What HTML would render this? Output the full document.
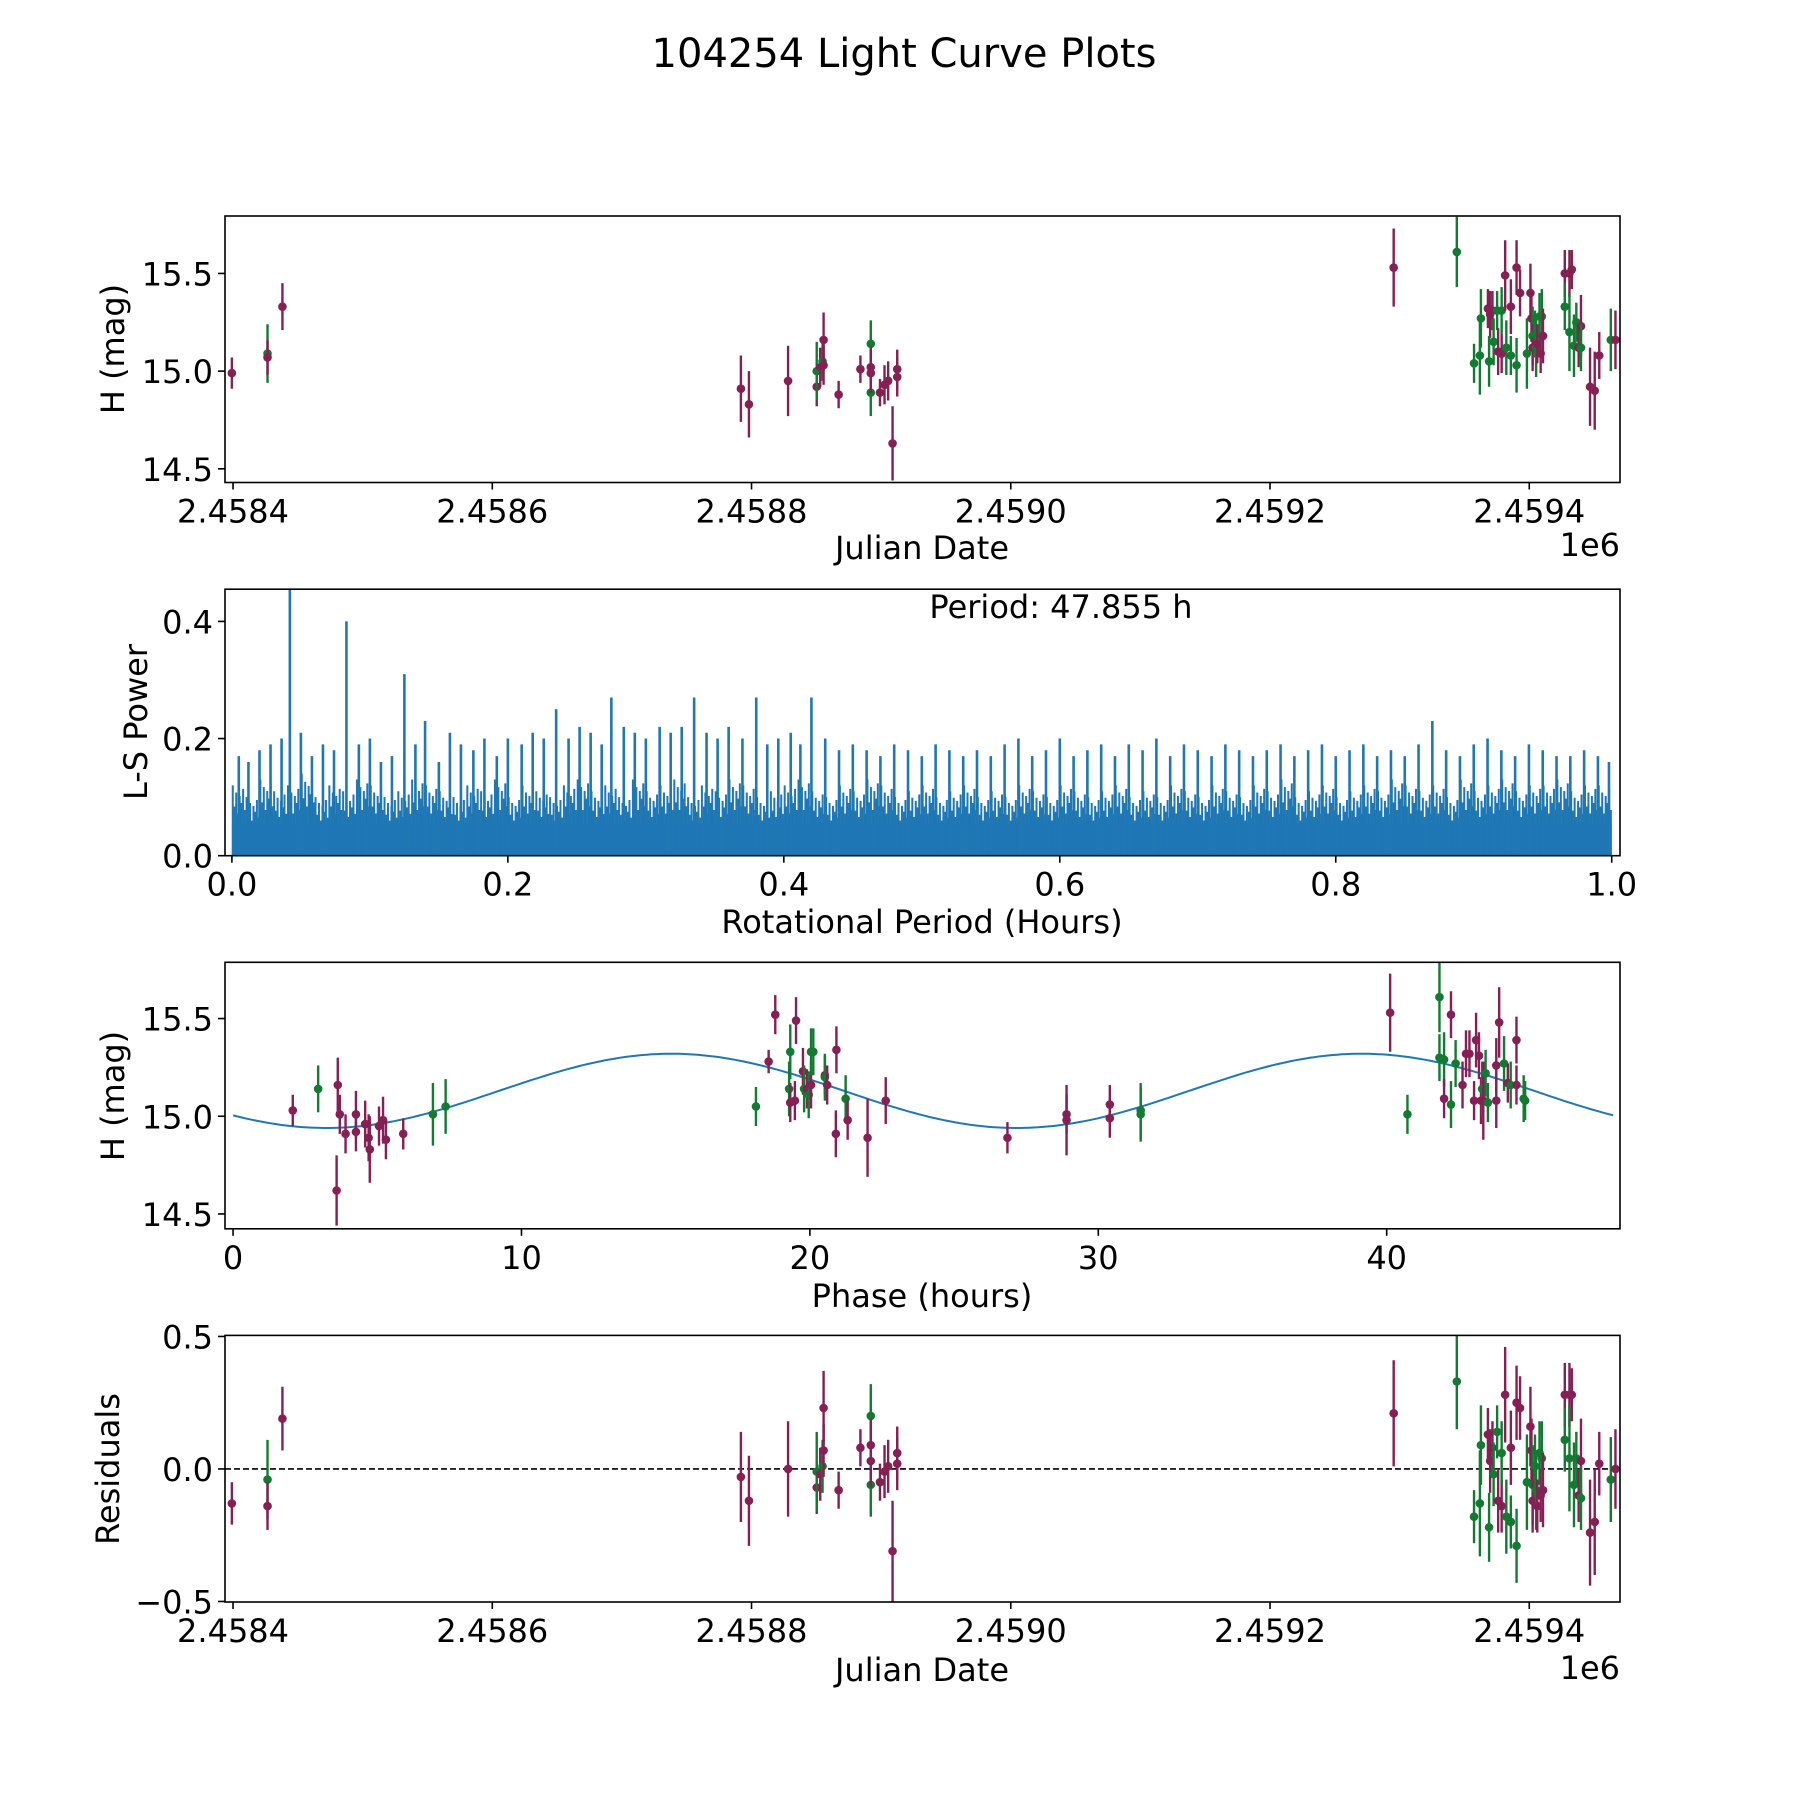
<!DOCTYPE html>
<html><head><meta charset="utf-8"><style>
html,body{margin:0;padding:0;background:#fff}
svg{display:block}
text{font-family:"DejaVu Sans","Liberation Sans",sans-serif;fill:#000}
</style></head><body>
<svg id="fig" xmlns="http://www.w3.org/2000/svg" width="1800" height="1800" viewBox="0 0 1800 1800">
<rect width="1800" height="1800" fill="#fff"/>
<text x="904" y="67" font-size="40" text-anchor="middle">104254 Light Curve Plots</text>
</svg>
<script>
// ---- data: Julian-date panel (days since 2458400) ----
const jdDays = [-0.9,26.6,26.6,38.1,391.8,398.0,428.2,450.3,450.3,453,454.8,455.6,455.6,467.2,484,492,492,492,492,499.1,502.6,505.4,508.8,512.4,512.4,895.4,944.1,957.4,961.9,962.7,968.1,969.8,969,971.6,972.5,975.2,976,978.7,978.7,981.4,982.3,985.8,985.8,990.2,990.2,992.9,998.2,1000.9,1001.7,1002.6,1002.6,1004.4,1005.3,1006.2,1007.9,1008.8,1009.7,1010.6,1027.4,1027.4,1031,1031,1032.8,1034.5,1036.3,1038.1,1039.9,1039.9,1046.9,1050.5,1054,1062.9,1066.5];
const mags = [14.99,15.09,15.07,15.33,14.91,14.83,14.95,14.92,15.0,15.02,15.05,15.16,15.03,14.88,15.01,15.14,15.02,14.89,14.99,14.89,14.93,14.95,14.63,14.97,15.01,15.53,15.61,15.04,15.08,15.27,15.32,15.29,15.05,15.31,15.15,15.31,15.10,15.09,15.31,15.49,15.12,15.33,15.08,15.53,15.03,15.40,15.09,15.40,15.27,15.18,15.12,15.19,15.12,15.14,15.28,15.09,15.28,15.18,15.50,15.33,15.50,15.20,15.52,15.13,15.25,15.12,15.23,15.12,14.92,14.90,15.08,15.16,15.16];
const magErr = [0.08,0.15,0.09,0.12,0.17,0.17,0.18,0.1,0.15,0.1,0.1,0.14,0.1,0.07,0.07,0.12,0.1,0.12,0.1,0.07,0.1,0.1,0.19,0.1,0.1,0.2,0.18,0.1,0.2,0.15,0.1,0.12,0.13,0.1,0.12,0.1,0.12,0.1,0.12,0.18,0.14,0.14,0.1,0.14,0.14,0.12,0.18,0.15,0.12,0.15,0.12,0.12,0.15,0.1,0.12,0.1,0.14,0.14,0.12,0.12,0.12,0.2,0.1,0.16,0.1,0.1,0.16,0.12,0.2,0.2,0.12,0.16,0.15];
const band = ['p','g','p','p','p','p','p','p','g','p','g','p','p','p','p','g','p','g','p','p','p','p','p','p','p','p','g','g','g','g','p','p','g','p','g','g','p','p','g','p','g','p','g','p','g','p','g','p','p','g','p','g','g','p','g','p','g','p','p','g','p','g','p','g','g','p','p','g','p','p','p','g','p'];
const resid = [-0.13,-0.04,-0.14,0.19,-0.03,-0.12,0.0,-0.07,-0.01,-0.02,0.01,0.23,0.07,-0.08,0.08,0.2,0.09,-0.06,0.03,-0.05,-0.01,0.01,-0.31,0.06,0.02,0.21,0.33,-0.18,-0.13,0.09,0.13,0.03,-0.22,0.08,-0.02,0.14,-0.12,-0.14,0.06,0.28,-0.18,0.08,-0.2,0.25,-0.29,0.23,-0.05,0.16,0.07,-0.06,-0.12,0.01,-0.08,-0.14,0.06,-0.1,0.04,-0.08,0.28,0.11,0.28,0.04,0.28,-0.06,0.04,-0.1,0.03,-0.11,-0.24,-0.2,0.02,-0.04,0.0];
// ---- data: phased panel ----
const phase = [2.07,2.95,3.59,3.63,3.7,3.9,4.26,4.26,4.58,4.7,4.74,5.06,5.2,5.3,5.9,6.93,7.37,18.13,18.57,18.8,19.28,19.32,19.32,19.48,19.52,19.76,19.8,19.9,19.96,20.04,20.04,20.12,20.52,20.52,20.6,20.9,20.92,21.24,21.31,22.0,22.63,26.85,28.9,28.9,30.4,30.4,31.47,31.47,40.12,40.72,41.83,41.83,41.99,41.99,42.23,42.23,42.39,42.63,42.75,42.87,43.03,43.1,43.2,43.27,43.31,43.35,43.43,43.51,43.8,43.8,43.9,44.07,44.2,44.3,44.5,44.5,44.75,44.8];
const phaseMag = [15.03,15.14,14.62,15.16,15.01,14.91,15.01,14.92,14.96,14.89,14.83,14.95,14.98,14.88,14.91,15.01,15.05,15.05,15.28,15.52,15.14,15.33,15.07,15.08,15.49,15.23,15.14,15.14,15.11,15.16,15.33,15.33,15.21,15.2,15.16,14.91,15.34,15.09,14.98,14.89,15.08,14.89,14.98,15.01,14.99,15.06,15.03,15.01,15.53,15.01,15.61,15.30,15.29,15.09,15.52,15.06,15.27,15.16,15.32,15.32,15.08,15.39,15.31,15.08,15.14,15.08,15.22,15.07,15.26,15.08,15.48,15.27,15.17,15.16,15.39,15.16,15.09,15.08];
const phaseErr = [0.08,0.12,0.18,0.14,0.1,0.1,0.12,0.1,0.12,0.12,0.17,0.1,0.12,0.1,0.08,0.16,0.14,0.1,0.06,0.1,0.14,0.14,0.1,0.1,0.12,0.12,0.12,0.1,0.12,0.12,0.12,0.12,0.1,0.12,0.1,0.12,0.12,0.12,0.1,0.2,0.12,0.08,0.18,0.1,0.1,0.1,0.14,0.14,0.2,0.1,0.18,0.12,0.14,0.1,0.12,0.12,0.12,0.12,0.12,0.12,0.1,0.14,0.12,0.12,0.14,0.2,0.12,0.1,0.14,0.14,0.18,0.14,0.1,0.12,0.12,0.1,0.12,0.1];
const phaseBand = ['p','g','p','p','p','p','p','p','p','p','p','p','p','p','p','g','g','g','p','p','g','g','p','p','p','p','g','p','g','p','g','g','p','g','p','p','p','g','p','p','p','p','p','p','p','p','g','g','p','g','g','g','g','p','p','g','g','p','p','p','p','p','p','p','g','p','g','g','p','p','p','g','p','g','p','p','g','g'];
const fitMean = 15.13, fitAmp = 0.19, fitPeriod = 23.93, fitShift = 9.22;
// ---- data: periodogram ----
const peakPeriods = [0.005,0.012,0.02,0.028,0.036,0.042,0.05,0.058,0.066,0.074,0.083,0.092,0.1,0.108,0.116,0.125,0.133,0.14,0.15,0.158,0.166,0.175,0.183,0.192,0.2,0.21,0.218,0.226,0.235,0.244,0.252,0.26,0.268,0.275,0.284,0.292,0.3,0.31,0.318,0.326,0.335,0.344,0.352,0.36,0.37,0.38,0.388,0.396,0.405,0.412,0.42,0.43,0.44,0.45,0.46,0.47,0.48,0.49,0.5,0.51,0.52,0.53,0.54,0.55,0.56,0.57,0.58,0.59,0.6,0.61,0.62,0.63,0.64,0.65,0.66,0.67,0.68,0.69,0.7,0.71,0.72,0.73,0.74,0.75,0.76,0.77,0.78,0.79,0.8,0.81,0.82,0.83,0.84,0.85,0.86,0.87,0.88,0.89,0.9,0.91,0.92,0.93,0.94,0.95,0.96,0.97,0.98,0.99,0.998];
const peakPowers = [0.17,0.16,0.18,0.19,0.2,0.46,0.21,0.17,0.19,0.18,0.40,0.19,0.2,0.16,0.17,0.31,0.19,0.23,0.16,0.21,0.19,0.18,0.2,0.17,0.2,0.19,0.21,0.2,0.25,0.2,0.22,0.21,0.19,0.27,0.22,0.21,0.2,0.22,0.21,0.22,0.27,0.21,0.2,0.22,0.2,0.27,0.19,0.2,0.21,0.19,0.27,0.2,0.18,0.19,0.18,0.17,0.19,0.18,0.17,0.19,0.18,0.17,0.18,0.17,0.19,0.2,0.17,0.18,0.2,0.17,0.18,0.19,0.17,0.19,0.18,0.2,0.17,0.19,0.18,0.17,0.19,0.18,0.17,0.18,0.19,0.17,0.18,0.19,0.17,0.18,0.19,0.17,0.18,0.17,0.19,0.23,0.18,0.17,0.19,0.2,0.18,0.17,0.19,0.18,0.17,0.17,0.18,0.17,0.16];
const noiseLevels = [0.12,0.1,0.13,0.11,0.12,0.14,0.1,0.12,0.11,0.13,0.12,0.1,0.11,0.13,0.12,0.11,0.1,0.12,0.11,0.13,0.1,0.12,0.11,0.1,0.12,0.13,0.11,0.12,0.1,0.13,0.11,0.12,0.13,0.1,0.12,0.11,0.13,0.12,0.1,0.11,0.12,0.13,0.11,0.1,0.12,0.11,0.13,0.12,0.1,0.11,0.12,0.1,0.11,0.12,0.1,0.11,0.1,0.12,0.11,0.1,0.12,0.11,0.1,0.11,0.12,0.1,0.11,0.1,0.12,0.11,0.1,0.12,0.11,0.1,0.12,0.11,0.13,0.1,0.11,0.12,0.1,0.11,0.12,0.11,0.13,0.12,0.11,0.12,0.1,0.13,0.11,0.12,0.13,0.11,0.12,0.12,0.13,0.11,0.12,0.12];
const noiseShape = [1.0,0.7,0.9,0.6,0.85,0.75,0.95,0.65];
const jdTicks = [0,200,400,600,800,1000];
const jdTickLabels = ['2.4584','2.4586','2.4588','2.4590','2.4592','2.4594'];

const NS='http://www.w3.org/2000/svg';
const svg=document.getElementById('fig');
const COL={p:'#861f53',g:'#137a32'};
const FS=32;
function mk(tag,attrs,parent){const e=document.createElementNS(NS,tag);for(const k in attrs)e.setAttribute(k,attrs[k]);(parent||svg).appendChild(e);return e;}
const L=225,R=1620;
function scale(d0,d1,r0,r1){return v=>r0+(v-d0)/(d1-d0)*(r1-r0);}

function axesFrame(top,bot,name){
  const g=mk('g',{});
  
  
  return g;
}
function frame(g,top,bot){
  const r=mk('rect',{x:L,y:top,width:R-L,height:bot-top,fill:'none',stroke:'#000','stroke-width':1.6},g);
  
  
}
function xTicks(g,bot,vals,labels,sx,name){
  vals.forEach((v,i)=>{const x=sx(v);
    mk('line',{x1:x,x2:x,y1:bot,y2:bot+7,stroke:'#000','stroke-width':1.6},g);
    const t=mk('text',{x:x,y:bot+40,'font-size':FS,'text-anchor':'middle'},g);t.textContent=labels[i];
    
    });
}
function yTicks(g,vals,labels,sy,name){
  vals.forEach((v,i)=>{const y=sy(v);
    mk('line',{x1:L-7,x2:L,y1:y,y2:y,stroke:'#000','stroke-width':1.6},g);
    const t=mk('text',{x:L-12,y:y+12,'font-size':FS,'text-anchor':'end'},g);t.textContent=labels[i];
    
    });
}
function label(g,txt,x,y,rot,name){
  const t=mk('text',{x:x,y:y,'font-size':FS,'text-anchor':'middle'},g);
  if(rot)t.setAttribute('transform',`rotate(-90 ${x} ${y})`);
  t.textContent=txt;
  
  
}
function errPoints(g,xs,ys,es,bands,sx,sy,top,bot,name){
  const cp='c'+Math.round(top);
  const defs=mk('defs',{},g);const c=mk('clipPath',{id:cp},defs);
  mk('rect',{x:L,y:top,width:R-L,height:bot-top},c);
  const pg=mk('g',{'clip-path':`url(#${cp})`},g);
  xs.forEach((xv,i)=>{const x=sx(xv),y=sy(ys[i]),col=COL[bands[i]];
    const ln=mk('line',{x1:x,x2:x,y1:sy(ys[i]-es[i]),y2:sy(ys[i]+es[i]),stroke:col,'stroke-width':2.4},pg);
    
    
    const d=mk('circle',{cx:x,cy:y,r:4.3,fill:col},pg);
    
    });
  return pg;
}
const jdX=scale(-6.2,1070,L,R);

// Panel 1
(function(){
  const top=216,bot=482.5;
  const g=axesFrame(top,bot,'lightcurve-panel');
  const sy=scale(14.43,15.794,bot,top);
  errPoints(g,jdDays,mags,magErr,band,jdX,sy,top,bot,'magnitude-point');
  frame(g,top,bot);
  xTicks(g,bot,jdTicks,jdTickLabels,jdX,'x-tick-label');
  yTicks(g,[14.5,15.0,15.5],['14.5','15.0','15.5'],sy,'y-tick-label');
  label(g,'Julian Date',922,559,false,'x-axis-title');
  label(g,'H (mag)',124,349,true,'y-axis-title');
  const o=mk('text',{x:R,y:556,'font-size':FS,'text-anchor':'end'},g);o.textContent='1e6';
  
  
})();

// Panel 2 periodogram
(function(){
  const top=589.2,bot=855.7;
  const g=axesFrame(top,bot,'periodogram-panel');
  const sx=scale(-0.005,1.006,L,R),sy=scale(0,0.455,bot,top);
  const cp=mk('clipPath',{id:'cpls'},mk('defs',{},g));mk('rect',{x:L,y:top,width:R-L,height:bot-top},cp);
  const pg=mk('g',{'clip-path':'url(#cpls)'},g);
  const base=mk('rect',{x:sx(0),y:sy(0.055),width:sx(1)-sx(0),height:sy(0)-sy(0.055),fill:'#1f77b4'},pg);
  
  
  noiseLevels.forEach((v,i)=>{
    const x0=sx(i/noiseLevels.length),w=sx(1/noiseLevels.length)-sx(0);
    noiseShape.forEach((f,k)=>{
      const x=x0+w*(k+0.5)/noiseShape.length, h=v*f;
      const ln=mk('line',{x1:x,x2:x,y1:sy(0),y2:sy(h),stroke:'#1f77b4','stroke-width':2},pg);
      
      
    });
  });
  peakPeriods.forEach((p,i)=>{
    const ln=mk('line',{x1:sx(p),x2:sx(p),y1:sy(0),y2:sy(peakPowers[i]),stroke:'#1f77b4','stroke-width':2.6},pg);
    
    
  });
  frame(g,top,bot);
  xTicks(g,bot,[0,0.2,0.4,0.6,0.8,1.0],['0.0','0.2','0.4','0.6','0.8','1.0'],sx,'x-tick-label');
  yTicks(g,[0,0.2,0.4],['0.0','0.2','0.4'],sy,'y-tick-label');
  label(g,'Rotational Period (Hours)',922,933,false,'x-axis-title');
  label(g,'L-S Power',147,722,true,'y-axis-title');
  label(g,'Period: 47.855 h',1061,618,false,'period-annotation');
})();

// Panel 3 phased
(function(){
  const top=962.3,bot=1228.8;
  const g=axesFrame(top,bot,'phased-panel');
  const sx=scale(-0.28,48.09,L,R),sy=scale(14.424,15.788,bot,top);
  let d='';
  for(let i=0;i<=300;i++){const x=47.855*i/300;const y=fitMean+fitAmp*Math.sin(2*Math.PI*(x-fitShift)/fitPeriod);d+=(i?'L':'M')+sx(x).toFixed(1)+' '+sy(y).toFixed(1);}
  const fit=mk('path',{d:d,fill:'none',stroke:'#1f77b4','stroke-width':2},g);
  
  
  errPoints(g,phase,phaseMag,phaseErr,phaseBand,sx,sy,top,bot,'phased-point');
  frame(g,top,bot);
  xTicks(g,bot,[0,10,20,30,40],['0','10','20','30','40'],sx,'x-tick-label');
  yTicks(g,[14.5,15.0,15.5],['14.5','15.0','15.5'],sy,'y-tick-label');
  label(g,'Phase (hours)',922,1307,false,'x-axis-title');
  label(g,'H (mag)',124,1096,true,'y-axis-title');
})();

// Panel 4 residuals
(function(){
  const top=1335.4,bot=1602;
  const g=axesFrame(top,bot,'residuals-panel');
  const sy=scale(-0.502,0.504,bot,top);
  const zl=mk('line',{x1:L,x2:R,y1:sy(0),y2:sy(0),stroke:'#000','stroke-width':1.6,'stroke-dasharray':'6,3'},g);
  
  
  errPoints(g,jdDays,resid,magErr,band,jdX,sy,top,bot,'residual-point');
  frame(g,top,bot);
  xTicks(g,bot,jdTicks,jdTickLabels,jdX,'x-tick-label');
  yTicks(g,[-0.5,0,0.5],['\u22120.5','0.0','0.5'],sy,'y-tick-label');
  label(g,'Julian Date',922,1681,false,'x-axis-title');
  label(g,'Residuals',119,1469,true,'y-axis-title');
  const o=mk('text',{x:R,y:1679,'font-size':FS,'text-anchor':'end'},g);o.textContent='1e6';
  
  
})();
</script>
</body></html>
